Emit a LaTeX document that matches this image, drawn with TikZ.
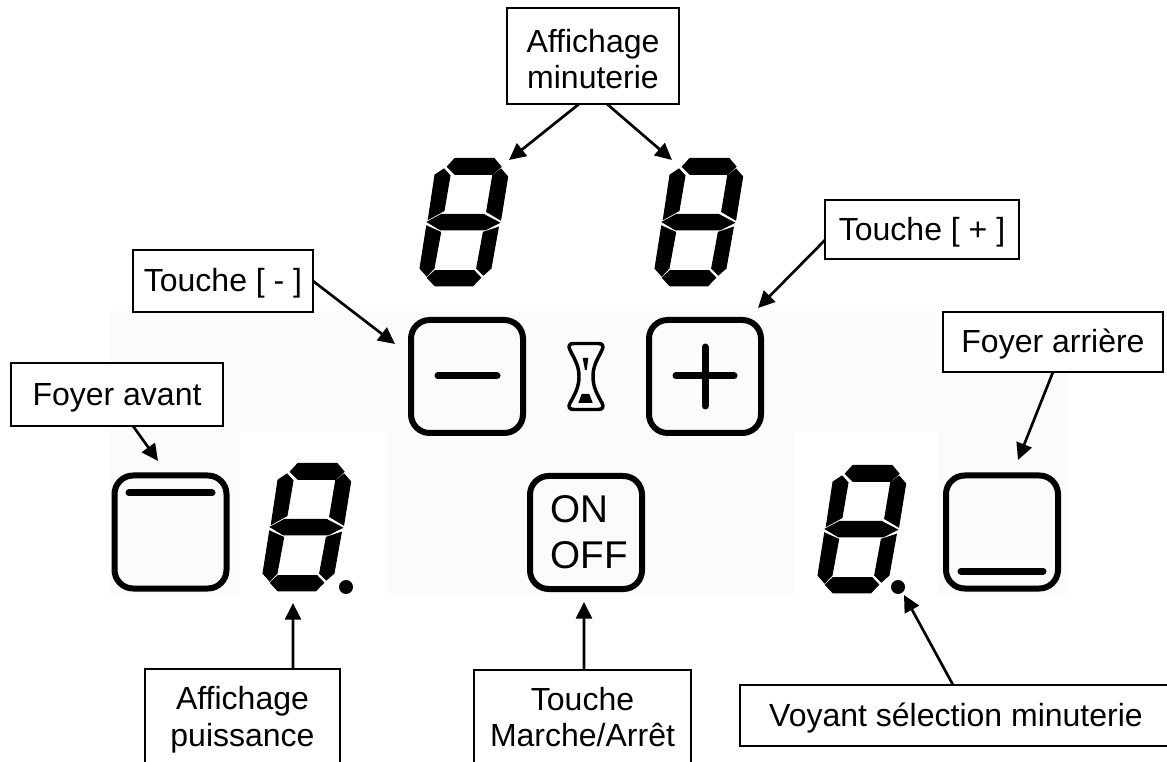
\documentclass[tikz,border=0pt]{standalone}
\usepackage{fontspec}
\setmainfont{Liberation Sans}
\usetikzlibrary{arrows.meta}
\definecolor{panelgrey}{HTML}{FBFBFB}
\tikzset{
  labelbox/.style={draw,line width=1.5pt,fill=white,align=center,inner sep=0pt,outer sep=0pt,
    font=\fontsize{24}{27.5}\selectfont},
  oneline/.style={text height=16pt,text depth=0pt},
  keybox/.style={draw,line width=4.5pt,rounded corners=14pt,minimum width=84pt,minimum height=84.75pt,
    inner sep=0pt,outer sep=0pt,align=left,font=\fontsize{29}{34.5}\selectfont},
  keybar/.style={line width=5.25pt,line cap=round},
  callout/.style={line width=2pt,-{Triangle[length=12.5pt,width=12pt]}},
  leddot/.style={circle,fill=black,minimum size=10.5pt,inner sep=0pt},
  digit/.pic={
    \tikzset{every path/.style={fill=black,draw=black,line width=.75pt}}
    \path (105,115) -- (222,115) -- (243,140) -- (218,163) -- (105,163) -- (82,140) -- cycle;
    \path (45,165) -- (72,147) -- (90,167) -- (72,272) -- (25,298) -- cycle;
    \path (243,147) -- (263,170) -- (242,300) -- (200,275) -- (218,167) -- cycle;
    \path (22,306) -- (65,283) -- (190,283) -- (238,308) -- (195,330) -- (62,330) -- cycle;
    \path (20,318) -- (62,337) -- (42,445) -- (20,468) -- (0,445) -- cycle;
    \path (235,322) -- (213,445) -- (190,465) -- (170,445) -- (190,337) -- cycle;
    \path (45,452) -- (162,452) -- (182,473) -- (158,498) -- (45,498) -- (22,473) -- cycle;
  }
}

\begin{document}
\begin{tikzpicture}
  [x=.75pt,y=-.75pt]
  \clip (0,0) rectangle (1167,762);
  \fill[white] (0,0) rectangle (1167,762);

  % panel
  \fill[panelgrey] (110,311) rectangle (1068,594);
  \fill[white] (240,431) rectangle (385,594);
  \fill[white] (794,431) rectangle (938,594);

  % displays
  \pic[scale=.3333] at (420,120) {digit};
  \pic[scale=.3333] at (655,120) {digit};
  \pic[scale=.3333] at (263,425) {digit};
  \pic[scale=.3333] at (818,427) {digit};
  \node[leddot] (dot1) at (346,587) {};
  \node[leddot] (dot2) at (898,587) {};

  % keys
  \node[keybox] (kminus) at (467,376.5) {};
  \node[keybox] (kplus) at (705,376.5) {};
  \node[keybox] (konoff) at (586,532.5) {\hspace*{4.5pt}ON\\\hspace*{4.5pt}OFF};
  \node[keybox] (kavant) at (170.5,532) {};
  \node[keybox] (karriere) at (1002,532) {};
  \draw[keybar] (438,376) -- (497,376);
  \draw[keybar] (676,376) -- (734,376);
  \draw[keybar] (705,347) -- (705,406);
  \draw[keybar] (129,493) -- (212,493);
  \draw[keybar] (961,571) -- (1043,571);

  % hourglass
  \draw[line width=2.6pt,line join=round]
    (574,343.5) -- (598,343.5)
    .. controls (603,343.5) and (604,346) .. (602,350)
    .. controls (597,360) and (593,366) .. (593,376.5)
    .. controls (593,387) and (597,394) .. (602,403)
    .. controls (604,407) and (603,409.5) .. (598,409.5)
    -- (574,409.5)
    .. controls (569,409.5) and (568,407) .. (570,403)
    .. controls (575,394) and (579,387) .. (579,376.5)
    .. controls (579,366) and (575,360) .. (570,350)
    .. controls (568,346) and (569,343.5) .. (574,343.5) -- cycle;
  \fill (582.7,358) -- (588.3,358) -- (586.7,370) -- (585,370) -- cycle;
  \fill (578.3,403) -- (592.7,403) -- (589.3,394) -- (581.7,394) -- cycle;

  % labels
  \node[labelbox,minimum width=129pt,minimum height=72pt] (affmin) at (593,56) {\rule{0pt}{22pt}Affichage\\minuterie};
  \node[labelbox,oneline,minimum width=145.5pt,minimum height=44.25pt] (tplus) at (922,229.5) {Touche [ + ]};
  \node[labelbox,oneline,minimum width=135pt,minimum height=46.5pt] (tminus) at (223,281) {Touche [ - ]};
  \node[labelbox,oneline,minimum width=159pt,minimum height=47.25pt] (favant) at (117,394.5) {Foyer avant};
  \node[labelbox,oneline,minimum width=165pt,minimum height=45pt] (farriere) at (1053,342) {Foyer arrière};
  \node[labelbox,minimum width=146.25pt,minimum height=76.5pt] (affpuis) at (242.5,720) {Affichage\\puissance};
  \node[labelbox,minimum width=162.75pt,minimum height=70.5pt] (marche) at (582.5,717) {Touche\\Marche/Arrêt};
  \node[labelbox,oneline,minimum width=324pt,minimum height=45.75pt] (voyant) at (956,715.5) {Voyant sélection minuterie};

  % arrow ends
  \coordinate (tdig1) at (509,160);
  \coordinate (tdig2) at (672,160);
  \coordinate (tminusk) at (395,344);
  \coordinate (tplusk) at (758,308);
  \coordinate (tavant) at (158,461);
  \coordinate (tarriere) at (1018,460);
  \coordinate (tpuis) at (293,603);
  \coordinate (tonoff) at (584,602);
  \coordinate (tdot) at (904,595);

\foreach \from/\sx/\sy/\to in
{affmin.south/-10.5/0/tdig1, affmin.south/10.5/0/tdig2, tminus.east/0/0/tminusk,
 tplus.west/0/-7.9/tplusk, favant.south/12/0/tavant, farriere.south/0/0/tarriere,
 affpuis.north/37.9/0/tpuis, marche.north/1.1/0/tonoff, voyant.north/-2.2/0/tdot}
    \draw[callout] ([xshift=\sx pt,yshift=\sy pt]\from) -- (\to);

\end{tikzpicture}
\end{document}
